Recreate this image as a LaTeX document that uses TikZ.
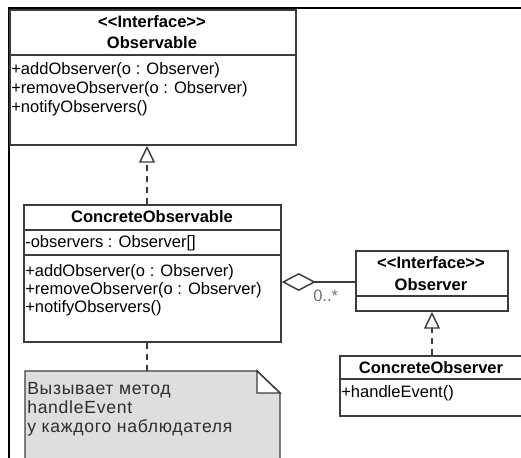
\documentclass[tikz,border=0pt]{standalone}
\usepackage{fontspec}
\setmainfont{Liberation Sans}[Ligatures=TeXOff]
\newfontfamily\notefont{Liberation Sans}[Ligatures=TeXOff,LetterSpace=4]
\usetikzlibrary{arrows.meta,fit}
\definecolor{umlline}{RGB}{60,60,60}
\definecolor{notefill}{RGB}{222,222,222}
\definecolor{notetextc}{RGB}{45,45,45}
\definecolor{multgray}{RGB}{115,115,115}

\begin{document}
\begin{tikzpicture}[x=0.75pt,y=0.75pt,yscale=-1,xscale=1,
    umlbox/.style={draw=umlline, line width=1.1pt, inner sep=0pt},
    memberline/.style={anchor=west, inner sep=0.75pt, font=\fontsize{12.4}{14}\selectfont},
    classname/.style={anchor=center, inner sep=0.75pt, font=\fontsize{12.4}{14}\selectfont\bfseries},
    realize/.style={draw=umlline, line width=1.1pt, dash pattern={on 4.5pt off 3.75pt}, -{Triangle[open,length=12.75pt,width=12pt]}},
    aggregate/.style={draw=umlline, line width=1.1pt, {Diamond[open,length=25.5pt,width=13.5pt]}-},
    noteline/.style={draw=umlline, line width=1.1pt, dash pattern={on 4.5pt off 3.75pt}}]
    %set diagram size 521 x 457
    \useasboundingbox (0,0) rectangle (521,457);
    \clip (0,0) rectangle (521,457);

    %Frame
    \draw [line width=1.5pt]  (9,460) -- (9,8) -- (525,8) ;

    %Class: Observable
    \node [umlbox, fit={(10,10) (296,145)}] (observable) {};
    \draw [umlline, line width=1.1pt]  (10,55) -- (296,55) ;
    % Text Node
    \node [classname] (obsstereo) at (152,22) {<<Interface>>};
    \node [classname] (obsname) at (152,43) {Observable};
    \node [memberline] (obsadd) at (10,70) {+addObserver(o : Observer)};
    \node [memberline] (obsremove) at (10,89) {+removeObserver(o : Observer)};
    \node [memberline] (obsnotify) at (10,108) {+notifyObservers()};

    %Class: ConcreteObservable
    \node [umlbox, fit={(24,205) (281,342)}] (concobs) {};
    \draw [umlline, line width=1.1pt]  (24,230) -- (281,230) ;
    \draw [umlline, line width=1.1pt]  (24,255) -- (281,255) ;
    % Text Node
    \node [classname] (concobsname) at (152,217) {ConcreteObservable};
    \node [memberline] (concobsattr) at (24,243) {-observers : Observer[]};
    \node [memberline] (concobsadd) at (24,272) {+addObserver(o : Observer)};
    \node [memberline] (concobsremove) at (24,290) {+removeObserver(o : Observer)};
    \node [memberline] (concobsnotify) at (24,308) {+notifyObservers()};

    %Class: Observer
    \node [umlbox, fit={(356,251) (508,311)}] (observer) {};
    \draw [umlline, line width=1.1pt]  (356,296) -- (508,296) ;
    % Text Node
    \node [classname] (obrstereo) at (431,263) {<<Interface>>};
    \node [classname] (obrname) at (431,285) {Observer};

    %Class: ConcreteObserver
    \node [umlbox, fit={(340,356) (545,416)}] (concobr) {};
    \draw [umlline, line width=1.1pt]  (340,379) -- (545,379) ;
    % Text Node
    \node [classname] (concobrname) at (431,368) {ConcreteObserver};
    \node [memberline] (concobrhandle) at (340,393) {+handleEvent()};

    %Shape: Note
    \coordinate (notetop) at (147,371);
    \draw [umlline, line width=1.1pt, fill=notefill]  (25,470) -- (25,371) -- (257,371) -- (280,393) -- (280,470) ;
    \draw [umlline, line width=1.1pt, fill=white]  (257,371) -- (257,393) -- (280,393) -- cycle ;
    % Text Node
    \node [anchor=north west, inner sep=0.75pt, align=left, text=notetextc, font=\notefont\fontsize{13.2}{14.25}\selectfont] (notetext) at (26,381) {Вызывает метод\\handleEvent\\у каждого наблюдателя};

    %Connectors
    \coordinate (tipA) at (147,146);
    \coordinate (tipB) at (432,312);
    \coordinate (aggA) at (0,282);
    \draw [realize]  (concobs.north -| tipA) -- (observable.south -| tipA) ;
    \draw [realize]  (concobr.north -| tipB) -- (observer.south -| tipB) ;
    \draw [aggregate]  (concobs.east |- aggA) -- (observer.west |- aggA) ;
    \draw [noteline]  (concobs.south -| notetop) -- (notetop) ;
    % Text Node
    \node [anchor=west, inner sep=0.75pt, text=multgray, font=\fontsize{12.4}{14}\selectfont] (mult) at (312,296) {0..*};

\end{tikzpicture}
\end{document}
